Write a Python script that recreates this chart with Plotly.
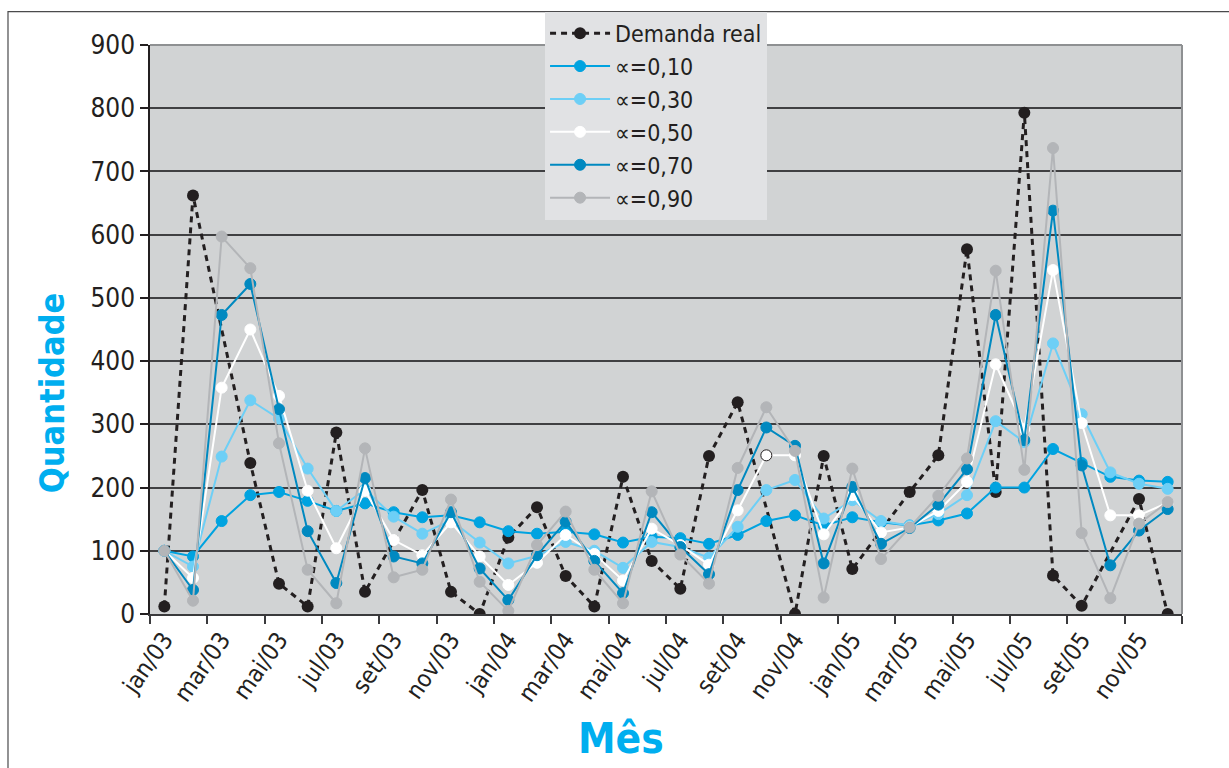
import plotly.graph_objects as go

# Monthly series, jan/03 .. dez/05
meses = ["jan/03", "fev/03", "mar/03", "abr/03", "mai/03", "jun/03",
         "jul/03", "ago/03", "set/03", "out/03", "nov/03", "dez/03",
         "jan/04", "fev/04", "mar/04", "abr/04", "mai/04", "jun/04",
         "jul/04", "ago/04", "set/04", "out/04", "nov/04", "dez/04",
         "jan/05", "fev/05", "mar/05", "abr/05", "mai/05", "jun/05",
         "jul/05", "ago/05", "set/05", "out/05", "nov/05", "dez/05"]

demanda_real = [12, 662, None, 239, 48, 12, 287, 35, None, 196, 35, 0,
                121, 169, 60, 12, 217, 84, 40, 250, 335, None, 0, 250,
                71, None, 193, 251, 577, 193, 793, 61, 13, None, 182, 0]

alfa_010 = [100, 91, 147, 188, 193, 179, 163, 175, 161, 153, 156, 145,
            131, 127, 130, 126, 113, 122, 120, 111, 125, 147, 156, 140,
            153, 145, 140, 148, 159, 200, 200, 261, 239, 217, 211, 209]

alfa_030 = [100, 75, 249, 338, 309, 230, 163, 197, 154, 127, 148, 113,
            80, 92, 114, 100, 73, 114, 106, 89, 138, 196, 212, 151,
            180, 147, 140, 158, 188, 305, 272, 428, 316, 224, 206, 198]

alfa_050 = [100, 57, 358, 450, 345, 195, 104, 195, 117, 93, 145, 91,
            46, 81, 125, 95, 53, 135, 109, 78, 164, 251, 251, 126,
            188, 129, 137, 163, 209, 395, 293, 544, 302, 156, 156, 176]

alfa_070 = [100, 38, 473, 522, 324, 131, 49, 215, 91, 80, 161, 72,
            22, 93, 146, 84, 33, 161, 106, 63, 196, 295, 266, 80,
            201, 111, 136, 173, 229, 473, 275, 638, 235, 77, 132, 166]

alfa_090 = [100, 21, 597, 547, 270, 70, 17, 262, 58, 70, 181, 51,
            5, 109, 162, 70, 17, 194, 94, 48, 231, 327, 258, 26,
            230, 87, 137, 187, 246, 543, 228, 737, 128, 25, 143, 177]

y_ticks = [0, 100, 200, 300, 400, 500, 600, 700, 800, 900]

FONT = "Liberation Sans Narrow, DejaVu Sans Condensed, Roboto, sans-serif"
TXT = "#231f20"
CYAN = "#00aeef"

idx = list(range(len(meses)))

fig = go.Figure()

series = [
    ("∝=0,10", alfa_010, "#00a3e0"),
    ("∝=0,30", alfa_030, "#6dcff6"),
    ("∝=0,50", alfa_050, "#ffffff"),
    ("∝=0,70", alfa_070, "#0089c0"),
    ("∝=0,90", alfa_090, "#b3b5b8"),
]

fig.add_trace(go.Scatter(
    x=idx, y=demanda_real, name="Demanda real", mode="lines+markers",
    connectgaps=True, customdata=meses,
    line=dict(color=TXT, width=3, dash="6px,5px"),
    marker=dict(color=TXT, size=12),
))

for nome, valores, cor in series:
    outline = ["#231f20" if (nome == "∝=0,50" and i == 21) else cor for i in idx]
    fig.add_trace(go.Scatter(
        x=idx, y=valores, name=nome, mode="lines+markers", customdata=meses,
        line=dict(color=cor, width=2),
        marker=dict(color=cor, size=11, line=dict(color=outline, width=1)),
    ))

fig.update_layout(
    width=1229, height=768,
    margin=dict(l=150, r=47, t=42, b=154),
    paper_bgcolor="white",
    plot_bgcolor="#d1d3d4",
    font=dict(family=FONT, color=TXT),
    showlegend=True,
    legend=dict(
        x=0.3828, y=1.0585, xanchor="left", yanchor="top",
        bgcolor="#e1e2e4", borderwidth=0,
        font=dict(family=FONT, size=23, color=TXT),
        itemwidth=60, tracegroupgap=0,
    ),
)

fig.update_xaxes(
    range=[-0.5, 35.5],
    tickmode="array",
    tickvals=idx[::2], ticktext=meses[::2],
    ticks="", tickangle=-55,
    tickfont=dict(family=FONT, size=24, color=TXT),
    showgrid=False, zeroline=False,
    showline=True, linecolor="#3a3a3c", linewidth=2,
    minor=dict(ticks="outside", tickmode="array",
               tickvals=[i - 0.5 for i in range(0, 37, 2)],
               ticklen=8, tickcolor="#3a3a3c", tickwidth=1.5, showgrid=False),
)

fig.update_yaxes(
    range=[0, 900],
    tickmode="array", tickvals=y_ticks,
    ticks="outside", ticklen=8, tickcolor=TXT, tickwidth=1.5,
    tickfont=dict(family=FONT, size=26, color=TXT),
    showgrid=True, gridcolor="#404042", gridwidth=1.5,
    zeroline=False,
    showline=True, linecolor=TXT, linewidth=1.5,
)

# plot-area border (top and right) and the outer frame
fig.add_shape(type="line", xref="paper", yref="paper", x0=0, x1=1, y0=1, y1=1,
              line=dict(color="#8e9092", width=2))
fig.add_shape(type="line", xref="paper", yref="paper", x0=1, x1=1, y0=0, y1=1,
              line=dict(color="#8e9092", width=2))
fig.add_shape(type="rect", xref="paper", yref="paper",
              x0=-0.1376, x1=1.06, y0=-0.30, y1=1.0585,
              line=dict(color="#4a4a4c", width=1.2), layer="below")

fig.add_annotation(text="<b>Quantidade</b>", xref="paper", yref="paper",
                   x=-0.095, y=0.388, xanchor="center", yanchor="middle",
                   textangle=-90, showarrow=False,
                   font=dict(family=FONT, size=34, color=CYAN))
fig.add_annotation(text="<b>Mês</b>", xref="paper", yref="paper",
                   x=0.4564, y=-0.218, xanchor="center", yanchor="middle",
                   showarrow=False,
                   font=dict(family=FONT, size=42, color=CYAN))

fig.write_html("out.html")
